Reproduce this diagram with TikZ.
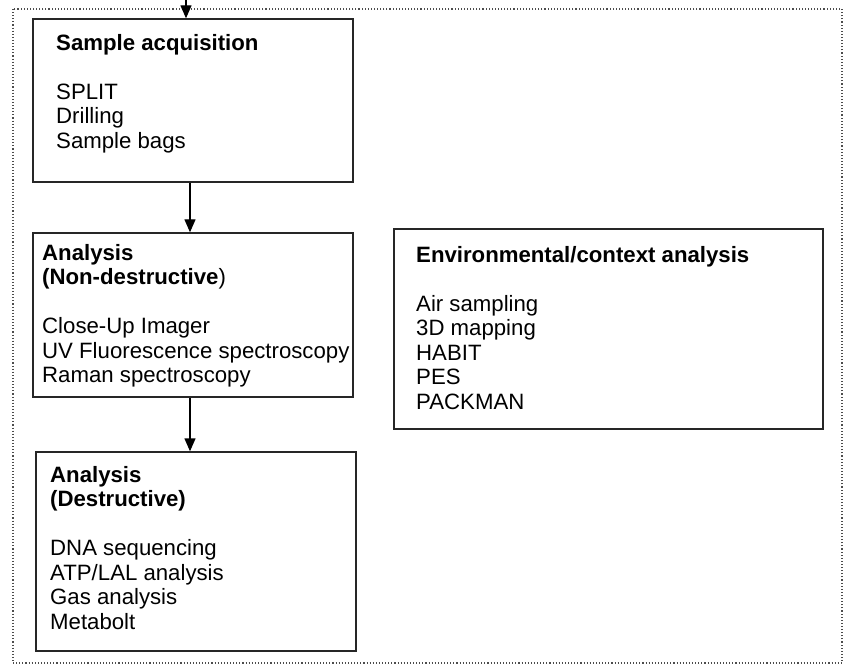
\documentclass[tikz,border=0pt]{standalone}
\usepackage{fontspec}
\setmainfont{Liberation Sans}
\usetikzlibrary{arrows.meta}
\begin{document}
\begin{tikzpicture}[x=1pt,y=-1pt,
  box/.style={draw=black!85,line width=1.4pt,rectangle,inner sep=0pt},
  txt/.style={anchor=north west,inner sep=0pt,align=left,
    font=\fontsize{22.2}{24.5}\selectfont},
  arr/.style={draw=black,line width=1.4pt,-{Triangle[length=13pt,width=11pt]}},
  frame/.style={draw=black!70,line width=1.1pt,dotted}]
\useasboundingbox (0,0) rectangle (844,666);
\draw[frame] (13,9) rectangle (842,663);
% boxes
\node[box,minimum width=320pt,minimum height=163pt] (b1) at (193,100.5) {};
\node[box,minimum width=320pt,minimum height=164pt] (b2) at (193,315) {};
\node[box,minimum width=320pt,minimum height=199pt] (b3) at (196,551.5) {};
\node[box,minimum width=429pt,minimum height=200pt] (b4) at (608.5,329) {};
% texts (north = first baseline - 17.15)
\node[txt] (t1) at (56,32.85) {\strut\textbf{Sample acquisition}\\[24.5pt]SPLIT\\Drilling\\Sample bags};
\node[txt] (t2) at (42,242.85) {\strut\textbf{Analysis}\\\textbf{(Non-destructive})\\[24.5pt]Close-Up Imager\\UV Fluorescence spectroscopy\\Raman spectroscopy};
\node[txt] (t3) at (50,464.85) {\strut\textbf{Analysis}\\\textbf{(Destructive)}\\[24.5pt]DNA sequencing\\ATP/LAL analysis\\Gas analysis\\Metabolt};
\node[txt] (t4) at (416,244.85) {\strut\textbf{Environmental/context analysis}\\[24.5pt]Air sampling\\3D mapping\\HABIT\\PES\\PACKMAN};
% arrows
\coordinate (in) at (186,0);
\draw[arr] (in) -- (in |- b1.north);
\draw[arr] ([xshift=-3pt]b1.south) -- ([xshift=-3pt]b2.north);
\draw[arr] ([xshift=-3pt]b2.south) -- ([xshift=-6pt]b3.north);
\end{tikzpicture}
\end{document}
